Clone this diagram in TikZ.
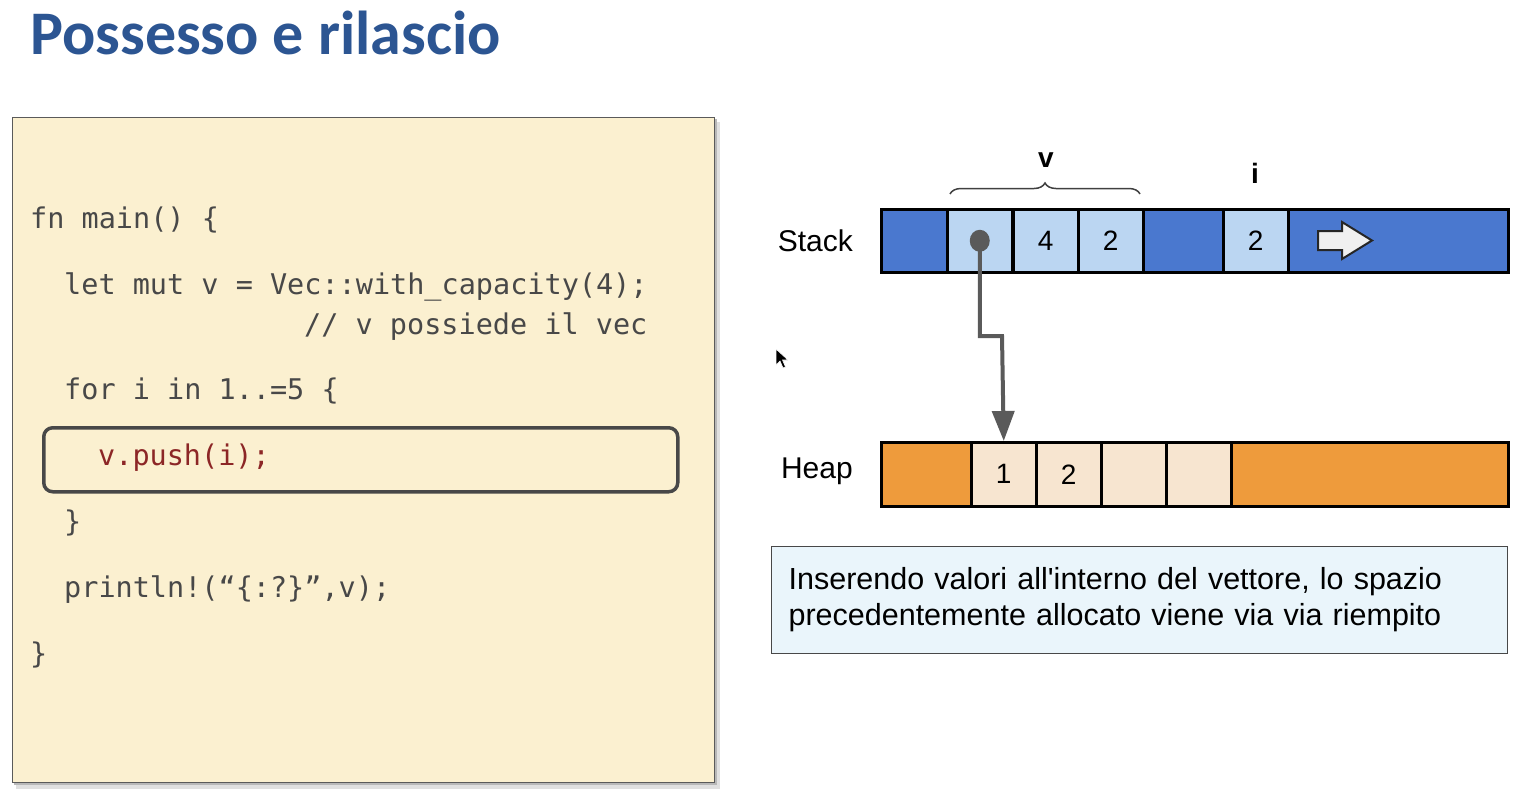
\documentclass[tikz,border=0pt]{standalone}
\usepackage{fontspec}
\setmainfont{Liberation Sans}
\newfontfamily\titlefont{Carlito}
\newfontfamily\codefont{DejaVu Sans Mono}
\usetikzlibrary{decorations.pathreplacing,arrows.meta}

\definecolor{titleblue}{HTML}{2C5592}
\definecolor{codebg}{HTML}{FBF0D0}
\definecolor{codegray}{HTML}{484848}
\definecolor{codered}{HTML}{8C2626}
\definecolor{stackdark}{HTML}{4A78CF}
\definecolor{stacklight}{HTML}{BBD6F2}
\definecolor{heapdark}{HTML}{EE9B3C}
\definecolor{heaplight}{HTML}{F7E5D0}
\definecolor{notebg}{HTML}{EAF5FB}
\definecolor{ptrgray}{HTML}{5A5A5A}

\tikzset{
  codeline/.style={anchor=base west, inner sep=0pt, text=codegray,
    font=\codefont\fontsize{28.5}{28.5}\selectfont},
  bar/.style={draw=black, line width=2.5pt, anchor=north west, inner sep=0pt,
    minimum width=627pt},
  cell/.style={draw=black, line width=2.5pt, anchor=north west, inner sep=0pt,
    minimum width=65pt, font=\fontsize{28}{28}\selectfont},
  rowlabel/.style={anchor=east, inner sep=0pt, font=\fontsize{30}{30}\selectfont},
  varlabel/.style={inner sep=0pt, font=\bfseries\fontsize{28}{28}\selectfont},
  pointer/.style={draw=ptrgray, line width=4pt,
    -{Triangle[length=30pt,width=22pt]}},
}

\begin{document}
\begin{tikzpicture}[x=1pt, y=-1pt]
\useasboundingbox (0,0) rectangle (1540,796);

% heading
\node[anchor=base west, inner sep=0pt, text=titleblue,
  font=\titlefont\bfseries\fontsize{62}{62}\selectfont] (title) at (30,54)
  {Possesso e rilascio};

% code panel with its drop shadow
\fill[black!12] (16,122) rectangle (720,789);
\fill[black!28] (14,119) rectangle (717,785);
\node[draw=codegray!90, fill=codebg, line width=1.2pt, anchor=north west,
  inner sep=0pt, minimum width=702pt, minimum height=665pt] (codebox) at (12,117) {};

% highlighted statement
\node[draw=codegray, line width=3.5pt, rounded corners=9pt, anchor=north west,
  inner sep=0pt, minimum width=634pt, minimum height=64pt] (hl) at (42,426) {};

\node[codeline] (c1) at (30,228) {fn main() \{};
\node[codeline] (c2) at (64,294) {let mut v = Vec::with\_capacity(4);};
\node[codeline] (c3) at (304,334) {// v possiede il vec};
\node[codeline] (c4) at (64,399) {for i in 1..=5 \{};
\node[codeline, text=codered] (c5) at (98,465) {v.push(i);};
\node[codeline] (c6) at (64,531) {\}};
\node[codeline] (c7) at (64,597) {println!(“\{:?\}”,v);};
\node[codeline] (c8) at (30,663) {\}};

% stack row
\node[bar, fill=stackdark, minimum height=63pt] (stack) at (880,208) {};
\node[cell, fill=stacklight, minimum height=63pt] (s1) at (946,208) {};
\node[cell, fill=stacklight, minimum height=63pt] (s2) at (1012,208) {4};
\node[cell, fill=stacklight, minimum height=63pt] (s3) at (1077,208) {2};
\node[cell, fill=stacklight, minimum height=63pt] (si) at (1222,208) {2};
\node[rowlabel] (stacklab) at (853,241) {Stack};

% growth arrow inside the stack
\draw[fill=black!6, draw=black!85, line width=2pt, line join=miter]
  (1318,231) -- (1342,231) -- (1342,222) -- (1372,240.5) -- (1342,259)
  -- (1342,250) -- (1318,250) -- cycle;

% brace and variable names
\draw[black!75, line width=1.5pt, decorate,
  decoration={brace, amplitude=11pt}] (950,194) -- (1140,194);
\node[varlabel] (vlab) at (1046,160) {v};
\node[varlabel] (ilab) at (1255,173) {i};

% heap row
\node[bar, fill=heapdark, minimum height=64pt] (heap) at (880,441) {};
\node[cell, fill=heaplight, minimum height=64pt] (h1) at (970,441) {1};
\node[cell, fill=heaplight, minimum height=64pt] (h2) at (1035,441) {2};
\node[cell, fill=heaplight, minimum height=64pt] (h3) at (1100,441) {};
\node[cell, fill=heaplight, minimum height=64pt] (h4) at (1165,441) {};
\node[rowlabel] (heaplab) at (853,471) {Heap};

% pointer from v to the heap buffer
\fill[ptrgray] (s1.center) ellipse (10pt and 11pt);
\coordinate (bend) at (1002,336);
\draw[pointer] (s1.center) |- (bend) -- (h1.north);

% explanation
\node[draw=codegray, fill=notebg, line width=1.2pt, anchor=north west,
  minimum width=736pt, minimum height=107pt, inner xsep=17pt, inner ysep=0pt,
  text width=702pt, align=left, font=\fontsize{30.5}{36}\selectfont] (note) at (771,546)
  {Inserendo valori all\textquotesingle interno del vettore, lo spazio\\
   precedentemente allocato viene via via riempito};

% mouse pointer
\filldraw[fill=black, draw=white, line width=0.6pt]
  (776,349) -- (776,365) -- (780,361) -- (783,368) -- (785.5,367)
  -- (782.5,360) -- (788,360) -- cycle;
\end{tikzpicture}
\end{document}
